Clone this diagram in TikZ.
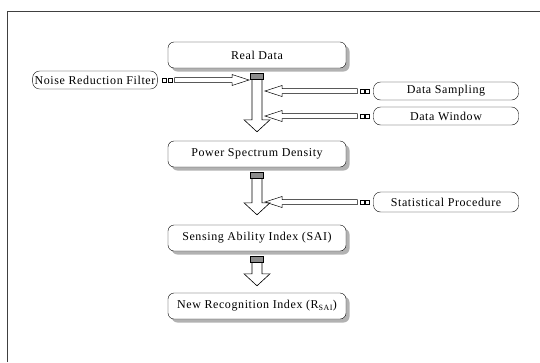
\documentclass[tikz,border=0pt]{standalone}
\usepackage{fontspec}
\setmainfont{Liberation Serif}[LetterSpace=5]
\usetikzlibrary{calc,shadows}

\begin{document}
\begin{tikzpicture}[
    x=1pt, y=-1pt,
    font=\fontsize{12}{14}\selectfont,
    stage/.style={
        draw,
        rectangle,
        rounded corners=6pt,
        fill=white,
        minimum width=178pt,
        minimum height=26pt,
        drop shadow={shadow xshift=3.5pt, shadow yshift=-3.5pt, fill=black!60}
    },
    option/.style={
        draw,
        rectangle,
        rounded corners=7pt,
        minimum width=145pt,
        minimum height=18pt
    },
    shaftcap/.style={
        draw,
        fill=black!45,
        anchor=north,
        minimum width=13pt,
        minimum height=6pt,
        inner sep=0pt
    },
    tailbox/.style={
        draw,
        minimum size=4pt,
        inner sep=0pt,
        line width=0.4pt
    },
    flow/.style={
        line width=0.6pt,
        to path={
            ($(\tikztostart)+(-5pt,0)$) -- ($(\tikztotarget)+(-5pt,12pt)$)
            -- ($(\tikztotarget)+(-13pt,12pt)$) -- (\tikztotarget)
            -- ($(\tikztotarget)+(13pt,12pt)$) -- ($(\tikztotarget)+(5pt,12pt)$)
            -- ($(\tikztostart)+(5pt,0)$)
            node[shaftcap] at (\tikztostart) {}
        }
    },
    feed/.style={
        line width=0.5pt,
        to path={
            let \p1=($(\tikztostart)!13pt!(\tikztotarget)$),
                \p2=($(\tikztotarget)!17pt!(\tikztostart)$) in
            ($(\p1)!2.5pt!90:(\p2)$) -- ($(\p2)!2.5pt!-90:(\p1)$)
            -- ($(\p2)!5.5pt!-90:(\p1)$) -- (\tikztotarget)
            -- ($(\p2)!5.5pt!90:(\p1)$) -- ($(\p2)!2.5pt!90:(\p1)$)
            -- ($(\p1)!2.5pt!-90:(\p2)$) -- cycle
            node[tailbox] at ($(\tikztostart)!3pt!(\tikztotarget)$) {}
            node[tailbox] at ($(\tikztostart)!8.5pt!(\tikztotarget)$) {}
        }
    }
]
\useasboundingbox (0,0) rectangle (540,362);

% frame
\draw[line width=1pt, black!75] (7,362) -- (7,11) -- (540,11);

\node[stage] (real) at (257,55) {Real Data};
\node[stage] (psd) at (257,154) {Power Spectrum Density};
\node[stage] (sai) at (257,238) {Sensing Ability Index (SAI)};
\node[stage] (nri) at (257,306) {New Recognition Index (R\textsubscript{SAI})};

\node[option, minimum width=124pt, inner xsep=2pt] (noise) at (95,80) {Noise Reduction Filter};
\node[option] (sampling) at (446,91) {Data Sampling};
\node[option] (window) at (446,116) {Data Window};
\node[option, minimum height=20pt] (stat) at (446,202) {Statistical Procedure};

\draw[flow] ([yshift=-5pt]real.south) to ([yshift=9pt]psd.north);
\draw[flow] ([yshift=-5pt]psd.south) to ([yshift=10pt]sai.north);
\draw[flow] ([yshift=-5pt]sai.south) to ([yshift=7pt]nri.north);

\draw[feed] ([xshift=4pt]noise.east) to ([xshift=-8pt]real.south |- noise.east);
\draw[feed] ([xshift=-3pt]sampling.west) to ([xshift=8pt]real.south |- sampling.west);
\draw[feed] ([xshift=-3pt]window.west) to ([xshift=8pt]real.south |- window.west);
\draw[feed] ([xshift=-3pt]stat.west) to ([xshift=8pt]psd.south |- stat.west);

\end{tikzpicture}
\end{document}
